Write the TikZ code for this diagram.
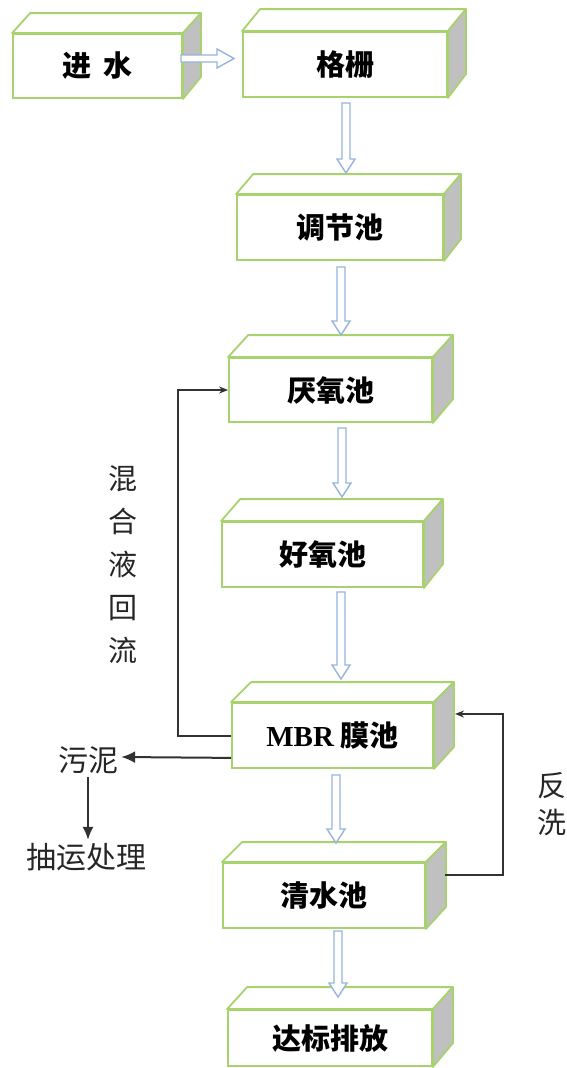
\documentclass[tikz,border=0pt]{standalone}
\usepackage{fontspec}
\newfontfamily\cjk{Noto Sans CJK SC}
\newfontfamily\tms{Liberation Serif}
\usetikzlibrary{arrows.meta,calc}
\definecolor{boxgreen}{RGB}{168,210,110}
\definecolor{sidegray}{RGB}{192,192,192}
\definecolor{arrowblue}{RGB}{150,180,220}
\definecolor{linegray}{RGB}{50,50,50}
\tikzset{
 front/.style={draw=boxgreen, line width=1.8pt, fill=white, inner sep=0pt,
   font=\cjk\bfseries\fontsize{29}{29}\selectfont, text=black},
 topface/.style={draw=boxgreen, line width=1.8pt, fill=white, line join=round},
 sideface/.style={draw=boxgreen, line width=1.8pt, fill=sidegray, line join=round},
 barrow/.style={draw=arrowblue, line width=1.4pt, fill=white, line join=miter},
 flow/.style={draw=linegray, line width=2pt},
 lbl/.style={font=\cjk\fontsize{30}{30}\selectfont, text=black!85, inner sep=3pt}
}
% name, x1, y1, x2, y2, dx, dy, text
\newcommand\tankbox[8]{%
 \node[front, minimum width={(#4-#2)*1pt}, minimum height={(#5-#3)*1pt}]
   (#1) at ({(#2+#4)/2},{(#3+#5)/2}) {#8};
 \draw[topface] (#1.north west) -- ++(#6,-#7) -- ($(#1.north east)+(#6,-#7)$) -- (#1.north east) -- cycle;
 \draw[sideface] (#1.north east) -- ++(#6,-#7) -- ++(0,{#5-#3}) -- (#1.south east) -- cycle;
}
% x, ytop, ytip
\newcommand\downarr[3]{%
 \draw[barrow] ({#1-4},#2) -- ({#1+4},#2) -- ({#1+4},{#3-14}) -- ({#1+9},{#3-14})
   -- (#1,#3) -- ({#1-9},{#3-14}) -- ({#1-4},{#3-14}) -- cycle;
}
\begin{document}
\begin{tikzpicture}[x=1pt,y=-1pt]
\useasboundingbox (0,0) rectangle (567,1068);
\fill[white] (0,0) rectangle (567,1068);

\tankbox{jin}{13}{34}{182}{98}{18}{20}{进\hspace{0.4em}水}
\tankbox{gs}{243}{32}{447}{97}{18}{22}{格栅}
\tankbox{tj}{237}{195}{443}{260}{17}{20}{调节池}
\tankbox{yy}{229}{358}{432}{422}{20}{22}{厌氧池}
\tankbox{hy}{222}{522}{423}{587}{19}{22}{好氧池}
\tankbox{mbr}{232}{703}{433}{768}{20}{20}{{\tms\bfseries MBR} 膜池}
\tankbox{qs}{223}{863}{425}{928}{20}{20}{清水池}
\tankbox{db}{228}{1010}{432}{1066}{20}{22}{达标排放}

% horizontal block arrow
\draw[barrow] (181,55) -- (217,55) -- (217,49) -- (234,58.5) -- (217,68) -- (217,62) -- (181,62) -- cycle;
\downarr{346}{103}{173}
\downarr{341}{267}{335}
\downarr{342}{428}{497}
\downarr{341}{592}{679}
\downarr{336}{775}{843}
\downarr{338}{931}{997}

% recycle
\draw[flow,-{Stealth[length=9pt,width=7pt]}] (mbr.west) -- (178,735.5) |- (yy.west);
\node[lbl, align=center, font=\cjk\fontsize{29}{43}\selectfont] (hh) at (123,565) {混\\合\\液\\回\\流};

% backwash
\coordinate (bw1) at (445,875);
\coordinate (bw2) at (455,714);
\draw[flow,-{Stealth[length=9pt,width=7pt]}] (bw1) -- (503,875) |- (bw2);
\node[lbl, align=center, font=\cjk\fontsize{29}{37}\selectfont] (fx) at (552,804) {反\\洗};

% sludge
\node[lbl] (sl) at (88,760) {污泥};
\node[lbl] (cl) at (86,857) {抽运处理};
\draw[flow,-{Latex[length=14pt,width=12pt]}] ($(mbr.south west)+(0,-11)$) -- (sl.east |- 0,757);
\draw[flow,-{Latex[length=13pt,width=11pt]}] (sl.south) -- (sl.south |- cl.north);
\end{tikzpicture}
\end{document}
